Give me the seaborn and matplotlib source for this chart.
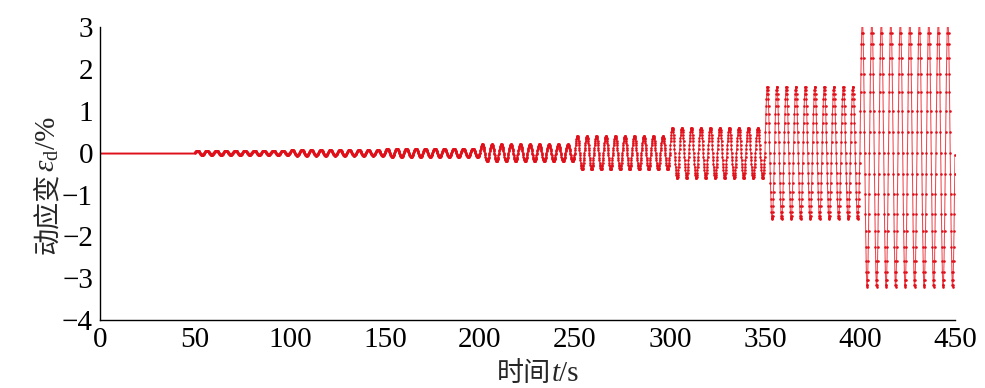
import numpy as np
import pandas as pd
import matplotlib
matplotlib.use("Agg")
import matplotlib.pyplot as plt
import seaborn as sns

# Loading stages (start time s, amplitude %)
stage_start = [0, 50, 100, 150, 200, 250, 300, 350, 400]
stage_amp = [0.0, 0.05, 0.07, 0.10, 0.20, 0.40, 0.60, 1.58, 3.20]
stage_len = 50
cycles_per_stage = 10
samples_per_cycle = 40
x_ticks = [0, 50, 100, 150, 200, 250, 300, 350, 400, 450]
y_ticks = [-4, -3, -2, -1, 0, 1, 2, 3]
y_tick_labels = ["\u22124", "\u22123", "\u22122", "\u22121", "0", "1", "2", "3"]

# Build waveform table from stage parameters
t_parts, y_parts = [], []
for s, a in zip(stage_start, stage_amp):
    n = cycles_per_stage * samples_per_cycle
    tt = s + np.arange(n) * stage_len / n
    ph = (tt - s) / stage_len * cycles_per_stage * 2 * np.pi
    t_parts.append(tt)
    y_parts.append(a * np.sin(ph))
t_parts.append(np.array([450.0]))
y_parts.append(np.array([-0.05]))
df = pd.DataFrame({"t": np.concatenate(t_parts), "y": np.concatenate(y_parts)})
df.loc[df["t"] < 50, "y"] = -0.02

sns.set_theme(style="white")
plt.rcParams['font.family'] = ['Liberation Serif', 'Noto Sans CJK SC']
plt.rcParams['mathtext.fontset'] = 'custom'
plt.rcParams['mathtext.rm'] = 'Liberation Serif'
plt.rcParams['mathtext.it'] = 'Liberation Serif:italic'

W, H = 985, 388
fig = plt.figure(figsize=(W / 100, H / 100), dpi=100)
ax = fig.add_axes([0.1015, 0.175, 0.868, 0.755])

sns.lineplot(data=df[df["t"] <= 50], x="t", y="y", ax=ax, color="#e0101a", linewidth=1.4,
             estimator=None, sort=False)
sns.lineplot(data=df[df["t"] >= 50], x="t", y="y", ax=ax, color="#ee4a50", linewidth=0.75,
             estimator=None, sort=False)
sns.scatterplot(data=df[df["t"] >= 50], x="t", y="y", ax=ax, color="#e0101a",
                s=3.5, linewidth=0, zorder=3)

ax.set_xlim(0, 450)
ax.set_ylim(-4, 3)
ax.set_xticks(x_ticks)
ax.set_yticks(y_ticks)
ax.set_yticklabels(y_tick_labels)
for sp in ["top", "right"]:
    ax.spines[sp].set_visible(False)
for sp in ["left", "bottom"]:
    ax.spines[sp].set_color("black")
    ax.spines[sp].set_linewidth(1.0)
ax.tick_params(direction="in", length=7, width=1, labelsize=21, colors="black", pad=5)
ax.set_xlabel("")
ax.set_ylabel("")

cjk = dict(family="Noto Sans CJK SC", fontsize=19.5)
ser = dict(family="Liberation Serif", fontsize=21)
seri = dict(family="Liberation Serif", fontsize=21, style="italic")

renderer = fig.canvas.get_renderer()


def measure(pieces, rot):
    sizes = []
    for s, kw in pieces:
        t = fig.text(0, 0, s, rotation=rot, rotation_mode="anchor",
                     ha="left", va="baseline", **kw)
        bb = t.get_window_extent(renderer)
        sizes.append(bb.width if rot == 0 else bb.height)
        t.remove()
    return sizes


def compose_x(pieces, baseline_px, center_px):
    sizes = measure(pieces, 0)
    pos = center_px - sum(sizes) / 2
    for (s, kw), sz in zip(pieces, sizes):
        fig.text(pos / W, 1 - baseline_px / H, s, ha="left", va="baseline", **kw)
        pos += sz


def compose_y(pieces, baseline_px, center_px):
    sizes = measure(pieces, 90)
    pos = center_px + sum(sizes) / 2
    for (s, kw), sz in zip(pieces, sizes):
        fig.text(baseline_px / W, 1 - pos / H, s, rotation=90, rotation_mode="anchor",
                 ha="left", va="baseline", **kw)
        pos -= sz


compose_x([("时间", cjk), ("t", seri), ("/s", ser)], baseline_px=381, center_px=538)
compose_y([("动应变", cjk), (r"$\varepsilon_{\mathrm{d}}$", ser), ("/%", ser)],
          baseline_px=55, center_px=185)

fig.savefig("out.png", dpi=100)
